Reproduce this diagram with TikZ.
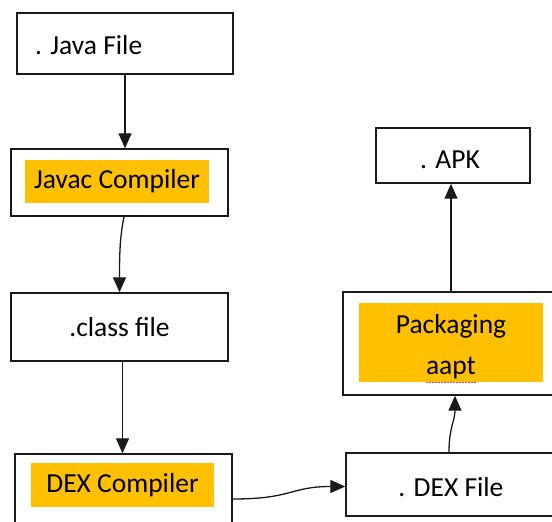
\documentclass[tikz,border=0pt]{standalone}
\usepackage{fontspec}
\setmainfont{Carlito}
\usetikzlibrary{arrows.meta}
\definecolor{hl}{HTML}{FFC000}
\definecolor{ln}{HTML}{1A1A1A}
\definecolor{spell}{HTML}{E8404A}
\begin{document}
\begin{tikzpicture}[x=1pt,y=-1pt,
  font=\fontsize{27.5}{41}\selectfont,
  box/.style={draw=ln,line width=1.4pt,rectangle,inner sep=0pt},
  hlbox/.style={fill=hl,inner sep=0pt,align=center},
  txt/.style={inner sep=0pt},
  arr/.style={draw=ln,line width=1.3pt,-{Triangle[length=15pt,width=13pt]}}]
\useasboundingbox (0,0) rectangle (552,522);
\clip (0,0) rectangle (552,522);
\fill[white] (0,0) rectangle (552,522);
% left column
\node[box,minimum width=216pt,minimum height=61pt] (java) at (125,43.5) {};
\node[txt,anchor=west] (javat) at (35,45) {. Java File};
\node[box,minimum width=217pt,minimum height=67pt] (javac) at (119.5,182.5) {};
\node[hlbox,minimum width=184pt,minimum height=43pt] (javact) at (117,181.5) {Javac Compiler};
\node[box,minimum width=217pt,minimum height=68pt] (cls) at (119.5,327) {.class file};
\node[box,minimum width=217pt,minimum height=90pt] (dexc) at (123.5,499) {};
\node[hlbox,minimum width=183pt,minimum height=44pt] (dexct) at (122.5,485) {DEX Compiler};
% right column
\node[box,minimum width=212pt,minimum height=63pt] (dexf) at (452,484.5) {};
\node[txt] (dexft) at (451,487) {. DEX File};
\node[box,minimum width=216pt,minimum height=103pt] (pack) at (451,343.5) {};
\node[hlbox,minimum width=184pt,minimum height=79pt] (packt) at (451,342.5) {};
\node[txt,anchor=base] (packl1) at (451,333) {Packaging};
\node[txt,anchor=base] (packl2) at (451,374) {aapt};
\draw[spell,line width=1.2pt,dash pattern=on 1.5pt off 1.5pt] ([xshift=-25pt,yshift=-0.5pt]packt.south) -- ([xshift=25pt,yshift=-0.5pt]packt.south);
\node[box,minimum width=154pt,minimum height=55pt] (apk) at (453,155.5) {};
\node[txt] (apkt) at (450,159.5) {. APK};
% connectors
\draw[arr] (java.south) -- (java.south |- javac.north);
\draw[arr] ([xshift=4.5pt]javac.south) .. controls +(-4,20) and +(0,-40) .. (cls.north);
\draw[arr] ([xshift=3pt]cls.south) -- ([xshift=3pt]cls.south |- dexc.north);
\draw[arr] (dexc.east) .. controls +(60,0) and +(-55,0) .. ([yshift=-2pt]dexf.west);
\draw[arr] ([xshift=-3pt]dexf.north) .. controls +(0,-25) and +(0,25) .. ([xshift=4pt]pack.south);
\draw[arr] (pack.north) -- (pack.north |- apk.south);
\end{tikzpicture}
\end{document}
